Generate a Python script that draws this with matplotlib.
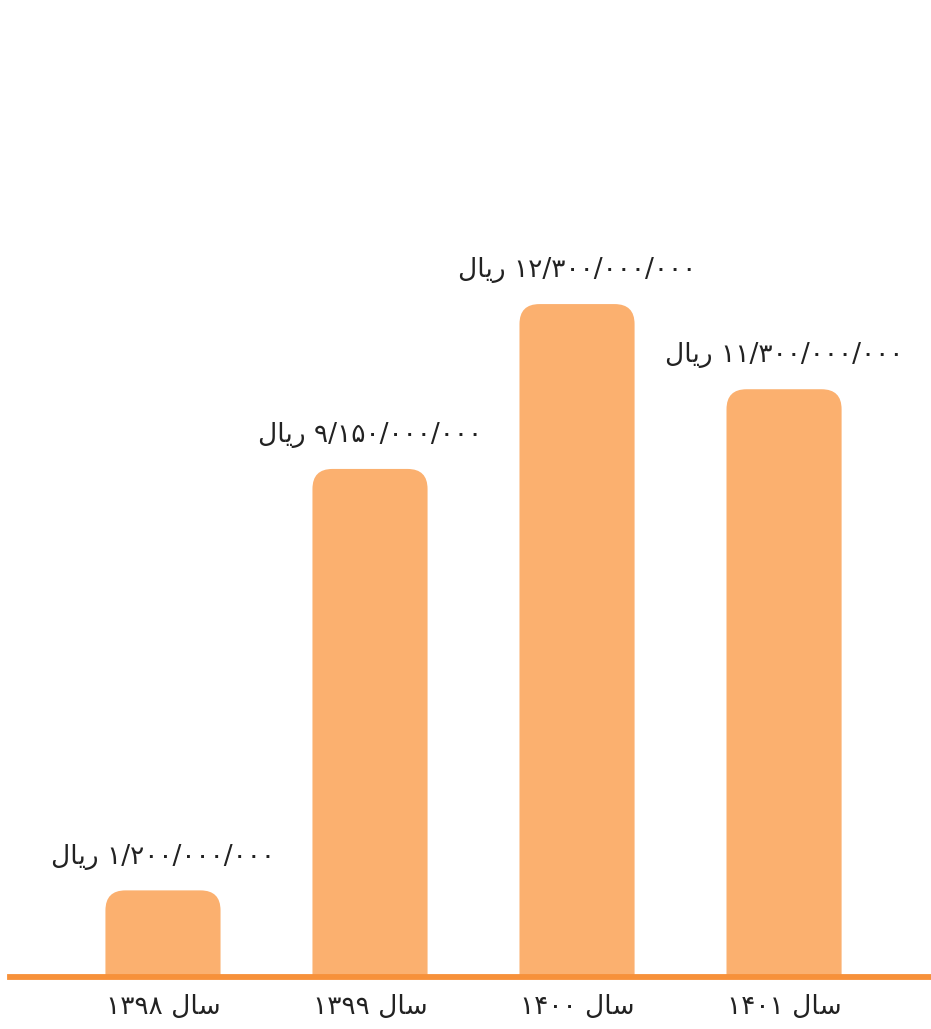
import numpy as np
import matplotlib.pyplot as plt
from matplotlib.patches import FancyBboxPatch

# datos
years = ['1398', '1399', '1400', '1401']
amounts = ['1/200/000/000', '9/150/000/000', '12/300/000/000', '11/300/000/000']
heights = [1.55, 9.27, 12.29, 10.73]

bar_color = '#FBB06F'
line_color = '#F7913A'

# formas de presentacion (orden visual) para que se vea bien sin bidi
SAL = '\uFEDD\uFE8E\uFEB3'          # سال
RIAL = '\uFEDD\uFE8E\uFEF3\uFEAD'   # ریال
fa_digits = str.maketrans('0123456789', '\u06F0\u06F1\u06F2\u06F3\u06F4\u06F5\u06F6\u06F7\u06F8\u06F9')

def fa(s):
    return s.translate(fa_digits)

plt.rcParams['font.family'] = ['DejaVu Sans']

fig = plt.figure(figsize=(9.31, 10.29), dpi=100)
ax = fig.add_axes([10/931, 54/1029, 920/931, 975/1029])
ax.set_xlim(-0.739, 3.705)
ax.set_ylim(0, 17.86)
ax.axis('off')

width = 0.556
r = 0.0966
aspect = 3.79
x = np.arange(len(years))
for i, h in zip(x, heights):
    box = FancyBboxPatch((i - width/2, -1), width, h + 1,
                         boxstyle='round,pad=0,rounding_size=%f' % r,
                         mutation_aspect=aspect, fc=bar_color, ec='none')
    ax.add_patch(box)
    ax.text(i, h + 0.62, RIAL + ' ' + fa(amounts[i]), ha='center', va='center',
            fontsize=19, color='#222222')
    ax.text(i, -0.59, fa(years[i]) + ' ' + SAL, ha='center', va='center',
            fontsize=19, color='#222222', clip_on=False)

ax.axhline(-0.04, color=line_color, lw=4.2, clip_on=False)

plt.savefig('out.png', dpi=100)
